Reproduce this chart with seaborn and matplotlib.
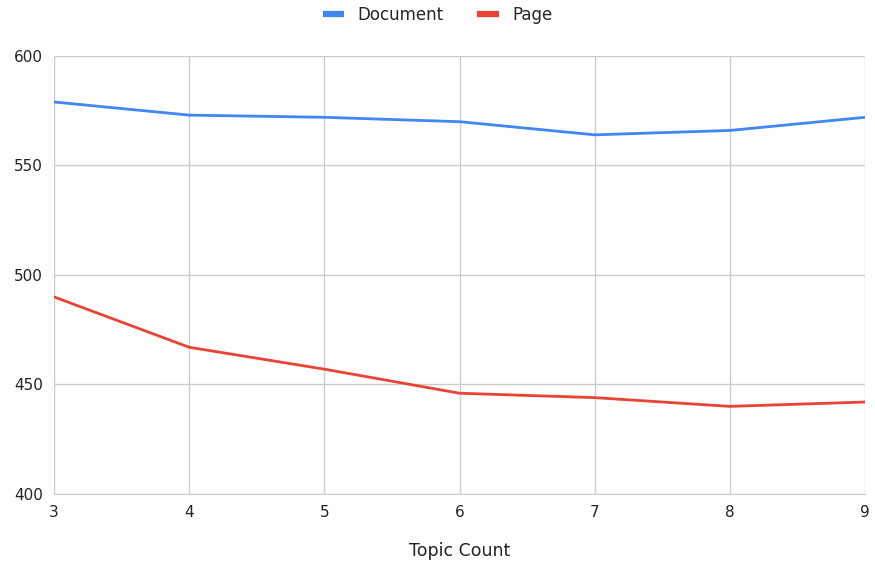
import pandas as pd
import matplotlib.pyplot as plt
import seaborn as sns

# values
topic_count = [3, 4, 5, 6, 7, 8, 9]
document = [579, 573, 572, 570, 564, 566, 572]
page = [490, 467, 457, 446, 444, 440, 442]

df = pd.DataFrame({"Topic Count": topic_count, "Document": document, "Page": page})
long_df = df.melt(id_vars="Topic Count", var_name="series", value_name="value")

sns.set_style("white")
plt.rcParams['font.family'] = ['DejaVu Sans']

fig = plt.figure(figsize=(8.75, 5.65), dpi=100)
ax = fig.add_axes([0.0617, 0.1257, 0.927, 0.7752])

sns.lineplot(
    data=long_df, x="Topic Count", y="value", hue="series",
    palette={"Document": "#4285F4", "Page": "#EA4335"},
    linewidth=2, ax=ax, legend=False
)

ax.set_xlim(3, 9)
ax.set_ylim(400, 600)
ax.set_xticks(topic_count)
ax.set_yticks([400, 450, 500, 550, 600])
ax.grid(True, color="#cccccc", linewidth=1)
ax.set_axisbelow(True)
for s in ["top", "right", "left"]:
    ax.spines[s].set_visible(False)
ax.spines["bottom"].set_color("#cccccc")
ax.tick_params(axis="both", length=0, labelsize=11, colors="#222222")
ax.tick_params(axis="x", pad=8)
ax.tick_params(axis="y", pad=8)
ax.set_ylabel("")
ax.set_xlabel("Topic Count", fontsize=12.5, color="#222222", labelpad=16)

# legend at the top centre
handles = [plt.Line2D([], [], color="#4285F4", linewidth=4.5, solid_capstyle="butt"),
           plt.Line2D([], [], color="#EA4335", linewidth=4.5, solid_capstyle="butt")]
fig.legend(handles, ["Document", "Page"], loc="upper center",
           bbox_to_anchor=(0.5, 1.016), ncol=2, frameon=False,
           fontsize=12, handlelength=1.3, columnspacing=2.0, handletextpad=0.8)

fig.savefig("out.png", dpi=100)
